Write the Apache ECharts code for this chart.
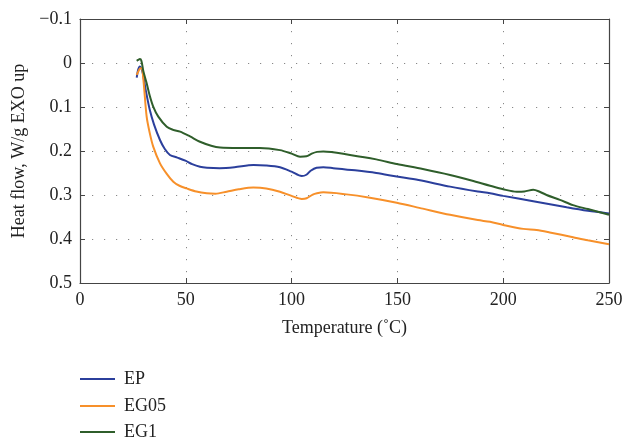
<!DOCTYPE html>
<html>
<head>
<meta charset="utf-8">
<script src="https://cdn.jsdelivr.net/npm/echarts@6/dist/echarts.min.js"></script>
<style>
html,body{margin:0;padding:0;background:#fff;}
#c{width:627px;height:438px;}
</style>
</head>
<body>
<div id="c"></div>
<script>
var xTicks = [0, 50, 100, 150, 200, 250];
var yTicks = [-0.1, 0, 0.1, 0.2, 0.3, 0.4, 0.5];
var seriesNames = ['EP', 'EG05', 'EG1'];

var epTemp = [26.8, 27.5, 28.3, 29.5, 31, 33, 35, 37.8, 40, 42.5, 46, 49.8, 53, 56.7, 60, 66, 73, 82, 88, 94.5, 100, 104.8, 107, 109, 111.8, 115, 119.7, 130, 140, 149.7, 160, 174.9, 188, 193.8, 200, 214.2, 230, 240, 250];
var epFlow = [0.033, 0.015, 0.008, 0.02, 0.06, 0.107, 0.14, 0.175, 0.195, 0.209, 0.215, 0.222, 0.23, 0.236, 0.238, 0.239, 0.237, 0.232, 0.233, 0.237, 0.247, 0.257, 0.254, 0.245, 0.238, 0.237, 0.239, 0.244, 0.25, 0.258, 0.266, 0.281, 0.292, 0.296, 0.302, 0.314, 0.328, 0.336, 0.342];

var eg05Temp = [26.8, 27.5, 28.5, 29.2, 30, 31.5, 33, 34.6, 37.8, 41, 44.1, 47, 50.4, 55, 59.9, 64, 69.3, 75, 81.9, 88, 94.5, 100, 104.8, 107.1, 110, 112, 115, 125, 137, 149.7, 162, 174.9, 188, 193.8, 200, 209.5, 215.8, 222, 233, 240, 250];
var eg05Flow = [0.027, 0.02, 0.012, 0.012, 0.04, 0.122, 0.16, 0.19, 0.228, 0.252, 0.27, 0.279, 0.285, 0.292, 0.296, 0.297, 0.2925, 0.287, 0.283, 0.285, 0.2925, 0.302, 0.309, 0.3075, 0.299, 0.296, 0.294, 0.298, 0.306, 0.3175, 0.331, 0.345, 0.357, 0.361, 0.368, 0.377, 0.3795, 0.385, 0.396, 0.403, 0.412];

var eg1Temp = [26.8, 27.5, 28.3, 29, 30, 31.5, 33, 34.6, 37, 41, 44, 47.3, 52, 56.7, 62, 66.2, 75, 85, 94.5, 100, 104, 107, 109.5, 112, 115, 127.6, 140, 149.7, 162, 174.9, 185, 193.8, 200, 206.4, 210, 214.2, 217, 220.5, 226.8, 233, 240, 250];
var eg1Flow = [-0.005, -0.007, -0.009, -0.005, 0.02, 0.046, 0.075, 0.099, 0.122, 0.145, 0.152, 0.156, 0.167, 0.179, 0.188, 0.192, 0.193, 0.193, 0.198, 0.206, 0.213, 0.212, 0.206, 0.202, 0.201, 0.209, 0.219, 0.2295, 0.241, 0.2545, 0.267, 0.279, 0.287, 0.2925, 0.292, 0.288, 0.292, 0.3, 0.311, 0.323, 0.332, 0.345];

function pairs(xs, ys) { return xs.map(function (x, i) { return [x, ys[i]]; }); }

var FONT = '"Liberation Serif", "DejaVu Serif", serif';
var colors = ['#2b3f9c', '#f7902a', '#2f5e2b'];

function fmtY(v) {
  var r = Math.round(v * 10) / 10;
  if (r === 0) return '0';
  if (r < 0) return '\u2212' + Math.abs(r).toFixed(1);
  return r.toFixed(1);
}

var gridDots = { show: true, lineStyle: { color: '#888', width: 1, type: [1.2, 10.8] } };
function axLine() { return { show: true, onZero: false, lineStyle: { color: '#444', width: 1.2 } }; }
var tickIn = { show: true, inside: true, length: 5, lineStyle: { color: '#444' } };

var legendTops = [370, 397, 423];
var legends = seriesNames.map(function (n, i) {
  return {
    orient: 'vertical', left: 80, top: legendTops[i], padding: 0,
    itemWidth: 35, itemHeight: 2, icon: 'rect',
    textStyle: { fontFamily: FONT, fontSize: 18, color: '#222', padding: [0, 0, 0, 4] },
    data: [n]
  };
});

var chart = echarts.init(document.getElementById('c'), null, { renderer: 'canvas' });
chart.setOption({
  animation: false,
  backgroundColor: '#fff',
  color: colors,
  grid: { left: 80, right: 18, top: 19, bottom: 155, containLabel: false },
  legend: legends,
  xAxis: [{
    type: 'value', min: xTicks[0], max: xTicks[xTicks.length - 1], interval: 50,
    axisLine: axLine(), axisTick: tickIn, splitLine: gridDots,
    axisLabel: { fontFamily: FONT, fontSize: 18, color: '#222', margin: 8 },
    name: 'Temperature (\u02daC)', nameLocation: 'middle', nameGap: 36,
    nameTextStyle: { fontFamily: FONT, fontSize: 18, color: '#222' }
  }, {
    type: 'value', position: 'top', min: 0, max: 250, interval: 50,
    axisLine: axLine(), axisTick: tickIn, splitLine: { show: false }, axisLabel: { show: false }
  }],
  yAxis: [{
    type: 'value', inverse: true, min: yTicks[0], max: yTicks[yTicks.length - 1], interval: 0.1,
    axisLine: axLine(), axisTick: tickIn, splitLine: gridDots,
    axisLabel: { fontFamily: FONT, fontSize: 18, color: '#222', margin: 8, formatter: fmtY },
    name: 'Heat flow, W/g EXO up', nameLocation: 'middle', nameGap: 51,
    nameTextStyle: { fontFamily: FONT, fontSize: 18, color: '#222' }
  }, {
    type: 'value', position: 'right', inverse: true, min: -0.1, max: 0.5, interval: 0.1,
    axisLine: axLine(), axisTick: tickIn, splitLine: { show: false }, axisLabel: { show: false }
  }],
  series: [
    { name: 'EP', type: 'line', data: pairs(epTemp, epFlow), showSymbol: false, smooth: 0.3, lineStyle: { width: 2 } },
    { name: 'EG05', type: 'line', data: pairs(eg05Temp, eg05Flow), showSymbol: false, smooth: 0.3, lineStyle: { width: 2 } },
    { name: 'EG1', type: 'line', data: pairs(eg1Temp, eg1Flow), showSymbol: false, smooth: 0.3, lineStyle: { width: 2 } }
  ]
});
</script>
</body>
</html>
